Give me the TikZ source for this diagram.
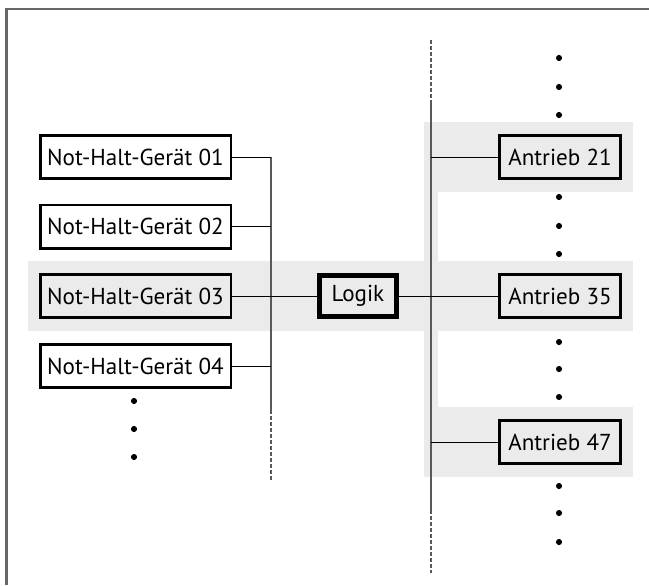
\documentclass[tikz,border=0pt]{standalone}
\usepackage{fontspec}
\setmainfont{PT Sans}
\begin{document}
\begin{tikzpicture}[x=0.75pt, y=-0.75pt,
    band/.style={fill=black!8},
    bus/.style={black!65, line width=1.1pt},
    busend/.style={bus, dash pattern=on 3pt off 1.5pt},
    dev/.style={draw, line width=2pt, inner sep=0pt, minimum width=143pt, minimum height=32.5pt, font=\fontsize{17.3}{17.3}\selectfont},
    drive/.style={dev, minimum width=91pt},
    logic/.style={dev, line width=3.4pt, minimum width=58pt, minimum height=31pt},
    wire/.style={line width=0.7pt}]
\useasboundingbox (0,0) rectangle (649,585);
% frame
\draw[black!60, line width=1.6pt] (6.5,585) -- (6.5,9) -- (649,9);
% bands
\fill[band] (28,261) rectangle (633,331);
\fill[band] (424,122) rectangle (633,192);
\fill[band] (424,407) rectangle (633,477);
\fill[band] (424,122) rectangle (438,477);
% busses
\coordinate (lt) at (271,157);
\coordinate (lb) at (271,410);
\coordinate (le) at (271,482);
\coordinate (rs) at (431,40);
\coordinate (rt) at (431,100);
\coordinate (rb) at (431,510);
\coordinate (re) at (431,573);
\draw[bus] (lt) -- (lb);
\draw[busend] (lb) -- (le);
\draw[busend] (rs) -- (rt);
\draw[bus] (rt) -- (rb);
\draw[busend] (rb) -- (re);
% devices
\foreach \i/\y in {1/157,2/226.5,3/296,4/366}
{
    \node[dev] (g\i) at (135.5,\y) {Not-Halt-Gerät 0\i};
}
\node[logic] (logik) at (358,296) {Logik};
\foreach \i/\y in {21/157,35/296,47/442}
{
    \node[drive] (a\i) at (560,\y) {Antrieb \i};
}
% wires
\foreach \i in {1,2,4}
{
    \draw[wire] (g\i) -- (g\i -| lt);
}
\draw[wire] (g3) -- (logik);
\draw[wire] (logik) -- (a35);
\draw[wire] (a21) -- (a21 -| rt);
\draw[wire] (a47) -- (a47 -| rt);
% dots
\foreach \y in {401,429,457}
{
    \fill (134,\y) circle (2.3pt);
}
\foreach \y in {58,87,115,197,226,254,342,369,397,486,513,542}
{
    \fill (559,\y) circle (2.3pt);
}
\end{tikzpicture}
\end{document}
